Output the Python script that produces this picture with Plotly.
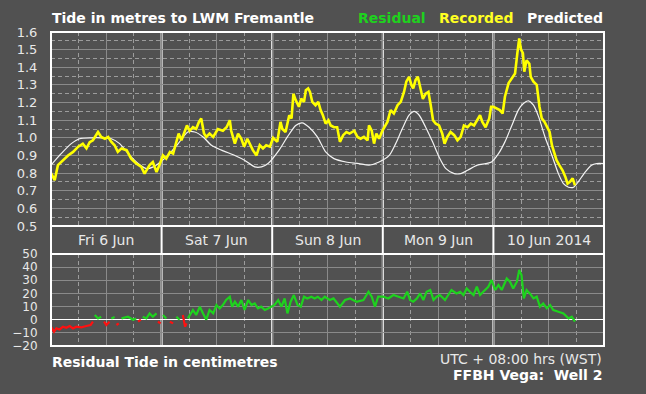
import plotly.graph_objects as go

# ---------------- data (hours from Fri 6 Jun 00:00 WST) ----------------
day_labels = ["Fri 6 Jun", "Sat 7 Jun", "Sun 8 Jun", "Mon 9 Jun", "10 Jun 2014"]
day_centres = [12, 36, 60, 84, 108]
day_bounds = [24, 48, 72, 96]

pred_hours = [0.0, 2.2, 4.4, 6.2, 8.8, 10.9, 13.1, 14.9, 17.1, 18.9, 20.7, 22.2, 23.6,
              25.4, 27.6, 29.7, 31.2, 33.0, 34.8, 37.0, 39.9, 42.0, 44.2, 45.7, 47.1,
              49.5, 51.3, 53.1, 54.5, 56.0, 57.8, 59.6, 61.4, 64.0, 66.8, 69.0, 71.2,
              73.4, 74.8, 76.2, 77.7, 78.8, 79.9, 81.3, 82.8, 84.2, 85.7, 87.5, 88.9,
              90.4, 92.5, 94.3, 95.6, 97.1, 98.5, 100.0, 101.4, 102.5, 103.6, 104.7,
              105.8, 107.2, 108.7, 110.1, 111.2, 112.3, 113.4, 114.4, 115.9, 117.3,
              118.4, 120.0]
pred_vals = [0.845, 0.91, 0.967, 0.995, 1.0, 1.0, 0.995, 0.967, 0.90, 0.854, 0.825, 0.835, 0.86,
             0.90, 0.967, 1.033, 1.033, 1.005, 0.958, 0.93, 0.90, 0.873, 0.835, 0.835, 0.854,
             0.93, 1.005, 1.07, 1.085, 1.06, 1.005, 0.92, 0.882, 0.863, 0.854, 0.845, 0.863,
             0.90, 0.967, 1.05, 1.128, 1.15, 1.128, 1.06, 0.977, 0.892, 0.825, 0.797, 0.797,
             0.816, 0.845, 0.854, 0.863, 0.91, 0.977, 1.07, 1.157, 1.195, 1.21, 1.185,
             1.12, 1.005, 0.90, 0.797, 0.74, 0.72, 0.72, 0.75, 0.806, 0.845,
             0.854, 0.854]

rec_hours = [0.0, 0.8, 1.5, 2.6, 3.7, 4.8, 5.9, 6.9, 7.7, 8.4, 9.1, 10.2, 10.9, 11.7, 12.4,
             13.1, 13.8, 14.5, 15.3, 16.4, 17.4, 18.5, 19.6, 20.3, 21.4, 22.1, 22.9, 23.6,
             24.3, 25.0, 25.8, 26.5, 27.2, 27.7, 28.3, 29.0, 29.5, 30.1, 30.8, 31.5, 32.1,
             32.6, 33.2, 33.7, 34.4, 35.2, 36.2, 37.3, 38.1, 38.8, 39.1, 39.9, 40.6, 41.3,
             41.9, 42.6, 43.1, 43.8, 44.6, 45.3, 46.0, 46.7, 47.5,
             48.2, 49.1, 49.8, 50.2, 50.9, 51.7, 52.2, 52.6, 53.1, 53.8, 54.3, 54.9, 55.3,
             55.8, 56.2, 56.7, 57.4, 58.0, 58.5, 59.0, 59.6, 60.2, 60.7, 61.4, 62.1, 62.7,
             63.4, 64.1, 64.8, 65.8, 66.5, 67.2, 67.9, 68.7, 69.0, 69.6, 70.1, 70.6, 71.2,
             71.9, 72.3, 73.0, 73.7, 74.4, 75.2, 75.9, 76.6, 77.1, 77.7, 78.2, 78.6, 79.1,
             79.6, 80.2, 80.7, 81.3, 81.9, 82.4, 82.9, 83.5, 84.2, 84.9, 85.4, 86.0, 86.7,
             87.5, 88.2, 88.9, 89.6, 90.4, 91.1, 91.8, 92.5, 93.1, 93.6, 94.3, 95.1,
             95.5, 96.0, 96.7, 97.4, 98.0, 98.5, 99.3, 100.0, 100.7, 101.2, 101.6, 102.0,
             102.4, 102.7, 103.2, 103.8, 104.1, 104.7, 105.4, 106.0, 106.5, 107.1, 107.6,
             108.2, 108.7, 109.2, 109.7, 110.3, 111.0, 111.6, 112.1, 112.6, 113.2, 113.7]
rec_vals = [0.80, 0.76, 0.845, 0.873, 0.90, 0.92, 0.95, 0.967, 0.94, 0.975, 0.986, 1.033, 1.005, 0.995, 1.005,
            0.977, 0.958, 0.92, 0.94, 0.93, 0.882, 0.854, 0.835, 0.797, 0.845, 0.863, 0.806, 0.85,
            0.90, 0.882, 0.92, 0.91, 0.986, 1.024, 0.986, 1.033, 1.07, 1.04, 1.06, 1.05, 1.09,
            1.11, 1.024, 1.005, 1.024, 1.005, 1.05, 1.04, 1.06, 1.10, 1.04, 0.967, 1.024, 0.995,
            0.95, 0.995, 0.967, 0.93, 0.90, 0.958, 0.94, 0.958, 0.95,
            1.0, 0.977, 1.09, 1.05, 1.033, 1.128, 1.11, 1.25, 1.214, 1.176, 1.222, 1.204, 1.27,
            1.28, 1.26, 1.204, 1.185, 1.204, 1.157, 1.128, 1.08, 1.10, 1.07, 1.06, 1.06, 0.977,
            1.015, 1.033, 1.024, 1.04, 1.005, 0.995, 1.005, 0.986, 1.07, 1.04, 0.967, 1.024, 0.995,
            1.04, 1.06, 1.09, 1.157, 1.138, 1.185, 1.204, 1.26, 1.318, 1.346, 1.30, 1.28, 1.327,
            1.346, 1.27, 1.22, 1.25, 1.26, 1.185, 1.10, 1.08, 1.07, 1.024, 0.967, 1.005, 1.033,
            1.015, 0.986, 1.005, 1.07, 1.06, 1.08, 1.07, 1.10, 1.128, 1.09, 1.06, 1.11,
            1.176, 1.176, 1.166, 1.157, 1.138, 1.233, 1.31, 1.337, 1.365, 1.48, 1.564, 1.50,
            1.48, 1.375, 1.44, 1.42, 1.346, 1.318, 1.30, 1.176, 1.11, 1.09, 1.06,
            1.033, 0.958, 0.92, 0.873, 0.845, 0.816, 0.78, 0.74, 0.75, 0.77, 0.73]

# residual (cm); source flag: "r" = red, "g" = green
res_hours = [0.07, 0.65, 1.16, 1.88, 2.6, 3.33, 4.05, 4.77, 5.5, 6.58, 7.67, 8.6, 9.1,
             9.5, 10.2, 10.9,
             11.5, 12.0, 12.7,
             13.1, 13.8,
             14.2, 14.7,
             15.3, 16.7, 17.8, 18.5,
             18.9, 19.5,
             19.9, 20.7, 21.4, 22.1, 22.9,
             23.2, 23.8,
             24.3, 25.0,
             25.8, 26.5,
             27.2, 27.9,
             28.6, 29.1, 29.4,
             29.7, 30.8, 31.5, 32.3, 33.0, 33.7, 34.4, 35.2, 35.9, 36.6, 37.3, 38.0, 38.8,
             39.3, 39.9, 40.6, 41.3, 42.0, 42.8, 43.5, 44.2, 44.9, 45.6, 46.4, 47.1, 47.8,
             48.5, 49.3, 50.0, 50.7, 51.3, 52.0, 52.7, 53.5, 54.2, 54.9, 55.6, 56.5, 57.2,
             57.9, 58.7, 59.4, 60.5, 61.3, 62.7, 63.8, 64.9, 66.3, 67.8, 68.9, 69.6, 70.3,
             71.0, 72.1, 73.2, 74.3, 75.4, 76.5, 77.3, 77.9, 78.6, 79.4, 80.1, 80.8, 81.5,
             82.3, 83.0, 83.7, 84.4, 85.5, 86.2, 86.9, 88.0, 88.8, 89.5, 90.2, 90.9, 91.7,
             92.4, 93.1, 93.8, 94.9, 95.6, 96.4, 97.1, 97.8, 98.9, 99.6, 100.3, 101.1,
             101.6, 102.1, 102.6, 103.2, 103.9, 104.7, 105.4, 106.1, 106.8, 107.6, 108.3,
             109.0, 110.1, 111.2, 112.3, 113.0, 113.7]
res_vals = [-5.8, -9.1, -6.6, -7.4, -5.3, -6.1, -4.8, -6.6, -5.3, -5.8, -4.8, -4.0, -1.5,
            3.6, 1.0, 2.3,
            -1.5, -4.0, -1.5,
            1.0, 2.0,
            -4.0, -2.8,
            1.0, 2.3, 0.0, 1.0,
            -1.5, 0.0,
            2.3, 1.0, 4.8, 2.3, 4.8,
            -1.5, -2.8,
            3.6, 1.0,
            -1.5, -2.8,
            2.3, 0.0,
            3.6, -5.3, -2.8,
            1.0, 7.4, 3.6, 9.9, 4.8, 0.0, 7.4, 4.8, 11.2, 8.6, 11.2, 15.0, 17.5,
            9.9, 13.7, 9.9, 15.0, 7.4, 15.0, 11.2, 12.4, 8.6, 9.9, 7.4, 8.6, 9.9,
            11.2, 15.0, 9.9, 16.2, 4.8, 13.7, 18.8, 11.2, 9.9, 17.5, 16.2, 17.5, 16.2,
            17.5, 15.0, 17.5, 15.0, 16.2, 9.9, 15.0, 16.2, 13.7, 15.0, 21.3, 17.5, 9.9,
            17.5, 17.5, 16.2, 18.8, 17.5, 16.2, 21.3, 15.0, 13.7, 16.2, 20.0, 15.0, 21.3,
            22.6, 15.0, 17.5, 18.8, 15.0, 18.8, 22.6, 20.0, 21.3, 18.8, 23.8, 21.3, 18.8,
            25.1, 18.8, 21.3, 25.1, 30.2, 22.6, 26.4, 22.6, 31.4, 28.9, 23.8, 28.9,
            37.8, 34.0, 16.2, 22.6, 20.0, 16.2, 17.5, 9.9, 12.4, 8.6, 11.2,
            7.4, 6.1, 4.8, 1.0, 2.3, -1.5]
res_src = (["r"] * 13 + ["g"] * 3 + ["r"] * 3 + ["g"] * 2 + ["r"] * 2 + ["g"] * 4 +
           ["r"] * 2 + ["g"] * 5 + ["r"] * 2 + ["g"] * 2 + ["r"] * 2 + ["g"] * 2 +
           ["r"] * 3 + ["g"] * (len(res_hours) - 45))

# ---------------- styling ----------------
BG = "#515151"
GRID = "#8a8a8a"
GRID_MINOR = "#9c9c9c"
TXT = "#e8e8e8"
FONT = "DejaVu Sans"
SRC_COL = {"r": "#ff1010", "g": "#1ed21e"}

fig = go.Figure()
fig.add_trace(go.Scatter(x=pred_hours, y=pred_vals, mode="lines", xaxis="x", yaxis="y",
                         line=dict(color="#f4f4f4", width=1.2, shape="spline", smoothing=0.7),
                         hoverinfo="skip", showlegend=False))
fig.add_trace(go.Scatter(x=rec_hours, y=rec_vals, mode="lines", xaxis="x", yaxis="y",
                         line=dict(color="#ffff00", width=2.6),
                         hoverinfo="skip", showlegend=False))

# residual: one trace per run of the same source
runs = []
for h, v, s in zip(res_hours, res_vals, res_src):
    if runs and runs[-1][0] == s:
        runs[-1][1].append(h)
        runs[-1][2].append(v)
    else:
        runs.append([s, [h], [v]])
for s, hs, vs in runs:
    fig.add_trace(go.Scatter(x=hs, y=vs, mode="lines", xaxis="x2", yaxis="y2",
                             line=dict(color=SRC_COL[s], width=2.2),
                             hoverinfo="skip", showlegend=False))

TOP_DOM = [120 / 314, 1.0]
RES_DOM = [0.0, 92 / 314]

xcommon = dict(range=[0, 120], showticklabels=False, showgrid=True, gridcolor=GRID,
               gridwidth=1, dtick=12, tick0=0, zeroline=False, showline=False, ticks="",
               automargin=False,
               minor=dict(dtick=6, tick0=0, showgrid=True, gridcolor=GRID_MINOR,
                          griddash="4px,3px", gridwidth=1))
tickfont = dict(family=FONT, size=13, color=TXT)
restickfont = dict(family=FONT, size=12, color=TXT)
top_ticks = [round(0.5 + 0.1 * i, 1) for i in range(12)]
res_ticks = [-20, -10, 0, 10, 20, 30, 40, 50]

fig.update_layout(
    width=646, height=394,
    margin=dict(l=51, r=42, t=32, b=48, autoexpand=False),
    paper_bgcolor=BG, plot_bgcolor=BG,
    font=dict(family=FONT, color=TXT),
    xaxis=dict(domain=[0, 1], anchor="y", **xcommon),
    xaxis2=dict(domain=[0, 1], anchor="y2", matches="x", **xcommon),
    yaxis=dict(domain=TOP_DOM, range=[0.5, 1.6], tickvals=top_ticks,
               ticktext=[f"{t:.1f}" for t in top_ticks], showgrid=True, gridcolor=GRID,
               minor=dict(dtick=0.05, tick0=0.5, showgrid=True, gridcolor=GRID_MINOR,
                          griddash="4px,3px"),
               zeroline=False, ticks="outside", ticklen=0, tickfont=tickfont,
               ticklabelstandoff=10, anchor="x", automargin=False),
    yaxis3=dict(domain=TOP_DOM, range=[0.5, 1.6], overlaying="y", side="right",
                tickvals=top_ticks, ticktext=[f"{t:.1f}" for t in top_ticks],
                showgrid=False, zeroline=False, ticks="outside", ticklen=0,
                tickfont=tickfont, ticklabelstandoff=6, anchor="x", automargin=False),
    yaxis2=dict(domain=RES_DOM, range=[-20, 50], tickvals=res_ticks, showgrid=True,
                gridcolor=GRID, zeroline=True, zerolinecolor="#ffffff", zerolinewidth=1.5,
                ticks="outside", ticklen=0, tickfont=restickfont, ticklabelstandoff=10,
                anchor="x2", automargin=False),
    yaxis4=dict(domain=RES_DOM, range=[-20, 50], overlaying="y2", side="right",
                tickvals=res_ticks, showgrid=False, zeroline=False, ticks="outside",
                ticklen=0, tickfont=restickfont, ticklabelstandoff=6, anchor="x2",
                automargin=False),
)

shapes = []
for y0, y1 in (TOP_DOM, RES_DOM):
    shapes.append(dict(type="rect", xref="paper", yref="paper", x0=0, x1=1, y0=y0, y1=y1,
                       line=dict(color="white", width=2), layer="above"))
for xx in (0, 1):
    shapes.append(dict(type="line", xref="paper", yref="paper", x0=xx, x1=xx,
                       y0=RES_DOM[1], y1=TOP_DOM[0], line=dict(color="white", width=2)))
for b in day_bounds:
    shapes.append(dict(type="line", xref="x", yref="paper", x0=b, x1=b, y0=0, y1=1,
                       line=dict(color="#ffffff", width=2), layer="between"))
fig.update_layout(shapes=shapes)

ann = []
band_y = (RES_DOM[1] + TOP_DOM[0]) / 2
for lab, c in zip(day_labels, day_centres):
    ann.append(dict(text=lab, x=c, xref="x", y=band_y, yref="paper", showarrow=False,
                    xanchor="center", yanchor="middle",
                    font=dict(family=FONT, size=14, color=TXT)))


def py(pix):
    return (346 - pix) / 314


def px(pix):
    return (pix - 51) / 553


ann.append(dict(text="<b>Tide in metres to LWM Fremantle</b>", x=px(50), y=py(18),
                xref="paper", yref="paper", showarrow=False, xanchor="left",
                yanchor="middle", font=dict(family=FONT, size=14, color="#ffffff")))
for txt, x0, col in (("Residual", 356, "#1ed21e"), ("Recorded", 437, "#ffff22"),
                     ("Predicted", 525, "#ffffff")):
    ann.append(dict(text=f"<b>{txt}</b>", x=px(x0), y=py(18), xref="paper", yref="paper",
                    showarrow=False, xanchor="left", yanchor="middle",
                    font=dict(family=FONT, size=14, color=col)))
ann.append(dict(text="<b>Residual Tide in centimetres</b>", x=px(50), y=py(362),
                xref="paper", yref="paper", showarrow=False, xanchor="left",
                yanchor="middle", font=dict(family=FONT, size=14, color="#ffffff")))
ann.append(dict(text="UTC + 08:00 hrs (WST)", x=px(604), y=py(359), xref="paper",
                yref="paper", showarrow=False, xanchor="right", yanchor="middle",
                font=dict(family=FONT, size=14, color=TXT)))
ann.append(dict(text="<b>FFBH Vega:\u00a0 Well 2</b>", x=px(604), y=py(375), xref="paper",
                yref="paper", showarrow=False, xanchor="right", yanchor="middle",
                font=dict(family=FONT, size=14, color="#ffffff")))
fig.update_layout(annotations=ann)

fig.write_html("out.html",
               config={"displayModeBar": False, "staticPlot": True},
               post_script="document.body.style.margin='0';"
                           "document.body.style.background='" + BG + "';")
